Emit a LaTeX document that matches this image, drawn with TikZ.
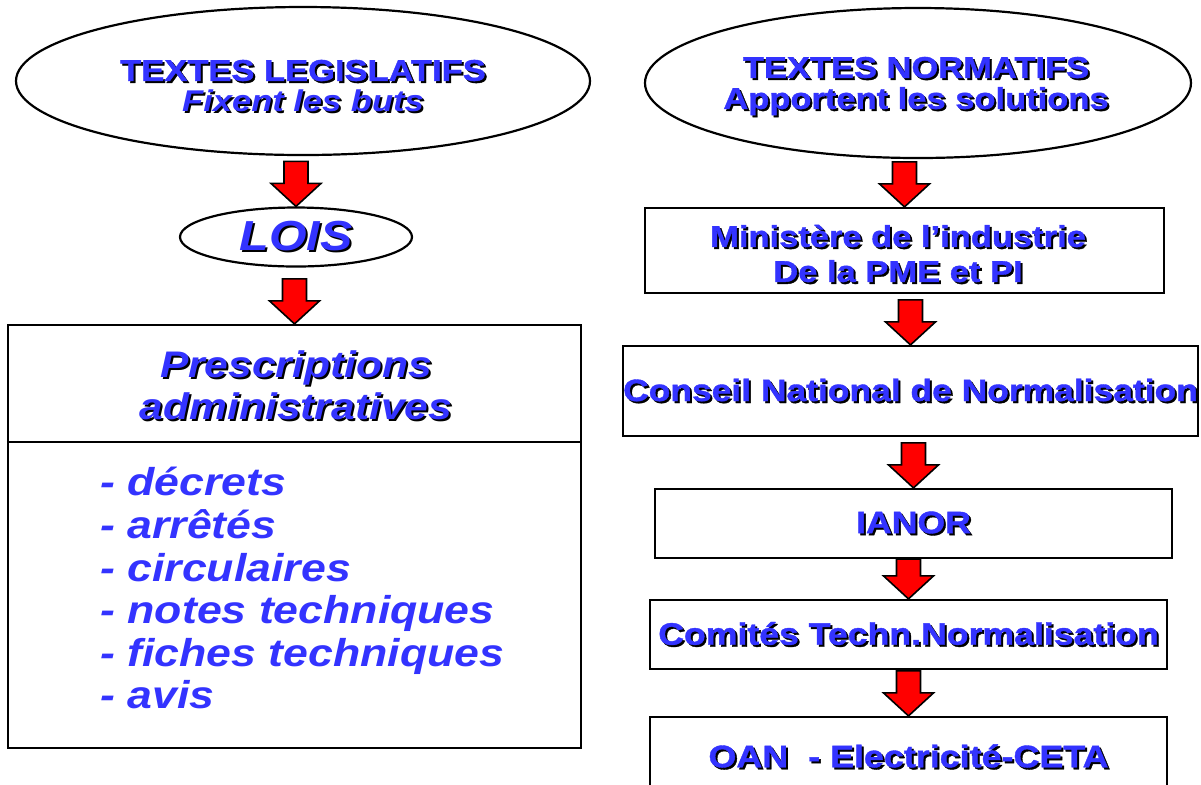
\documentclass[tikz,border=0pt]{standalone}
\usepackage{fontspec}
\setmainfont{Liberation Sans}[FakeStretch=1.15,BoldFeatures={FakeBold=1.2}]
\usetikzlibrary{calc,shapes.geometric}
\definecolor{txtblue}{RGB}{51,51,255}
\newcommand{\sh}[1]{\rlap{\kern1pt\raisebox{-1pt}{\color{black}#1}}{\color{txtblue}#1}}
\newcommand{\taille}[2]{\bfseries\fontsize{#1}{#2}\selectfont}
\newcommand{\fleche}[2]{
  \fill[red,draw=black,line width=0.8pt] let \p1=(#1.south), \p2=(#2.north),
    \n1={min(\y1,\y2+22.5pt)} in
    (\x2-6pt,\n1) -- (\x2+6pt,\n1) -- (\x2+6pt,\y2+11.5pt) -- (\x2+12.5pt,\y2+11.5pt)
    -- (\x2,\y2) -- (\x2-12.5pt,\y2+11.5pt) -- (\x2-6pt,\y2+11.5pt) -- cycle;
}

\begin{document}
\begin{tikzpicture}[x=0.5pt,y=-0.5pt]
\tikzstyle{ovale}=[ellipse,draw,line width=1.1pt,inner sep=0pt,align=center]
\tikzstyle{boite}=[rectangle,draw,line width=1.1pt,inner sep=0pt,align=center]
\clip (0,0) rectangle (1201,784);

% colonne de gauche
\node[ovale,minimum width=287pt,minimum height=74pt] (legis) at (303,81) {};
\node[align=center,font=\taille{15}{15.5}] (legistxt) at (303,87)
  {\sh{TEXTES LEGISLATIFS}\\\sh{\itshape Fixent les buts}};
\node[ovale,minimum width=116pt,minimum height=29.5pt,font=\taille{21}{21}] (lois) at (296,237)
  {\sh{\itshape LOIS}};
\node[boite,minimum width=286.5pt,minimum height=211.5pt] (presc) at (294.5,536.5) {};
\coordinate (div) at (0,442);
\draw[line width=1.1pt] (presc.west |- div) -- (presc.east |- div);
\node[align=center,font=\taille{18.5}{21}] (titre) at (296,386)
  {\sh{\itshape Prescriptions}\\\sh{\itshape administratives}};
\node[anchor=north west,inner sep=0pt,align=left,text=txtblue,font=\taille{19.4}{21.3}\itshape] (liste) at (100,467)
  {- décrets\\- arrêtés\\- circulaires\\- notes techniques\\- fiches techniques\\- avis};

% colonne de droite
\node[ovale,minimum width=273pt,minimum height=75pt] (norm) at (918,83) {};
\node[align=center,font=\taille{15}{15.5}] (normtxt) at (916,87)
  {\sh{TEXTES NORMATIFS}\\\sh{Apportent les solutions}};
\node[boite,minimum width=259.5pt,minimum height=42.5pt] (minist) at (904.5,250.5) {};
\node[align=center,font=\taille{15}{17.5}] (ministxt) at (898,254.5)
  {\sh{Ministère de l’industrie}\\\sh{De la PME et PI}};
\node[boite,minimum width=286.5pt,minimum height=45pt,font=\taille{15.4}{16}] (cnn) at (910.5,391)
  {\sh{Conseil National de Normalisation}};
\node[boite,minimum width=258.5pt,minimum height=34.5pt,font=\taille{15.5}{16}] (ianor) at (913.5,523.5)
  {\sh{IANOR}};
\node[boite,minimum width=258.5pt,minimum height=34.5pt,font=\taille{15.5}{16}] (ctn) at (908.5,634.5)
  {\sh{Comités Techn.Normalisation}};
\node[boite,minimum width=258.5pt,minimum height=40pt,font=\taille{15.6}{16}] (oan) at (908.5,757)
  {\sh{OAN\ \ - Electricité-CETA}};

% fleches
\fleche{legis}{lois}
\fleche{lois}{presc}
\fleche{norm}{minist}
\fleche{minist}{cnn}
\fleche{cnn}{ianor}
\fleche{ianor}{ctn}
\fleche{ctn}{oan}
\end{tikzpicture}
\end{document}
